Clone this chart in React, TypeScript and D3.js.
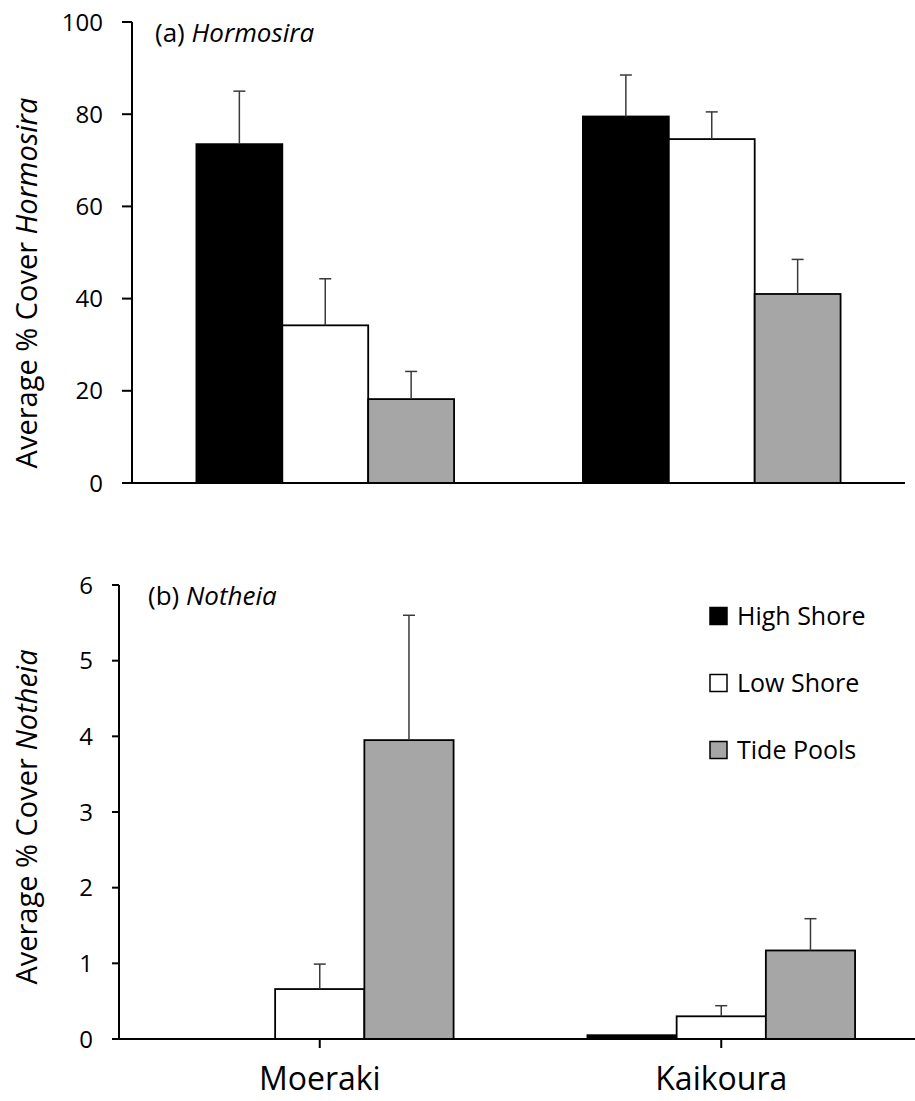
import React from 'react';
import * as d3 from 'd3';

const sites = ['Moeraki', 'Kaikoura'];
const zones = ['High Shore', 'Low Shore', 'Tide Pools'];
const zoneFill = ['#000000', '#ffffff', '#a6a6a6'];

// % cover Hormosira: mean per site (rows) and zone (cols), and mean + SE
const hormosiraMean = [[73.5, 34.2, 18.2], [79.5, 74.6, 41.0]];
const hormosiraTop = [[85.0, 44.3, 24.2], [88.5, 80.5, 48.5]];
const hormosiraTicks = [0, 20, 40, 60, 80, 100];

// % cover Notheia
const notheiaMean = [[0, 0.66, 3.95], [0.05, 0.3, 1.17]];
const notheiaTop = [[0, 0.99, 5.6], [0.05, 0.44, 1.59]];
const notheiaTicks = [0, 1, 2, 3, 4, 5, 6];

const FONT = '"Open Sans", "Liberation Sans", sans-serif';

type PanelProps = {
  left: number; right: number; top: number; bottom: number;
  max: number; ticks: number[]; mean: number[][]; upper: number[][];
  tag: string; genus: string; catTicks: boolean; tickLen: number;
  titleDx: number; labelY: number;
};

const Panel = (p: PanelProps) => {
  const x = d3.scaleBand().domain(sites).range([p.left, p.right]);
  const inner = d3.scaleBand().domain(zones).range([0, x.bandwidth()]).paddingOuter(0.75);
  const y = d3.scaleLinear().domain([0, p.max]).range([p.bottom, p.top]);
  const bw = inner.bandwidth();

  return (
    <g fontFamily={FONT}>
      {/* bars */}
      {sites.map((s, i) => zones.map((z, j) => {
        const x0 = (x(s) as number) + (inner(z) as number);
        const v = p.mean[i][j];
        if (v <= 0) return null;
        return (
          <rect key={s + z} x={x0} y={y(v)} width={bw} height={y(0) - y(v)}
            fill={zoneFill[j]} stroke="#000" strokeWidth={1.8} />
        );
      }))}
      {/* error bars */}
      {sites.map((s, i) => zones.map((z, j) => {
        const cx = (x(s) as number) + (inner(z) as number) + bw / 2;
        const v = p.mean[i][j];
        const t = p.upper[i][j];
        if (t - v < 0.02) return null;
        return (
          <g key={'e' + s + z} stroke="#3a3a3a" strokeWidth={1.5}>
            <line x1={cx} x2={cx} y1={y(v)} y2={y(t)} />
            <line x1={cx - 6} x2={cx + 6} y1={y(t)} y2={y(t)} />
          </g>
        );
      }))}
      {/* axes */}
      <line x1={p.left - p.tickLen} x2={p.right} y1={y(0)} y2={y(0)} stroke="#000" strokeWidth={2} />
      <line x1={p.left} x2={p.left} y1={y(p.max)} y2={y(0)} stroke="#000" strokeWidth={2} />
      {p.ticks.map(t => (
        <g key={t}>
          <line x1={p.left - p.tickLen} x2={p.left} y1={y(t)} y2={y(t)} stroke="#000" strokeWidth={2} />
          <text x={p.left - p.tickLen - 19} y={y(t)} dy="0.36em" textAnchor="end" fontSize={24}>{t}</text>
        </g>
      ))}
      {p.catTicks && sites.map(s => {
        const cx = (x(s) as number) + x.bandwidth() / 2;
        return (
          <g key={s}>
            <line x1={cx} x2={cx} y1={y(0)} y2={y(0) + 9} stroke="#000" strokeWidth={2} />
            <text x={cx} y={y(0) + 51} textAnchor="middle" fontSize={32}>{s}</text>
          </g>
        );
      })}
      <text x={p.left + p.titleDx} y={p.top + 20} fontSize={26}>
        {p.tag} <tspan fontStyle="italic">{p.genus}</tspan>
      </text>
      <text transform={`translate(37,${p.labelY}) rotate(-90)`} textAnchor="middle" fontSize={29}>
        Average % Cover <tspan fontStyle="italic">{p.genus}</tspan>
      </text>
    </g>
  );
};

const App = () => {
  const legendY = d3.scalePoint().domain(zones).range([616, 750]);
  return (
    <svg width={915} height={1101} style={{ position: 'absolute', left: 0, top: 0, background: '#fff' }}>
      <Panel left={132} right={905} top={22} bottom={483} max={100} ticks={hormosiraTicks}
        mean={hormosiraMean} upper={hormosiraTop} tag="(a)" genus="Hormosira" catTicks={false}
        tickLen={10} titleDx={23} labelY={283} />
      <Panel left={119} right={922} top={585} bottom={1039} max={6} ticks={notheiaTicks}
        mean={notheiaMean} upper={notheiaTop} tag="(b)" genus="Notheia" catTicks={true}
        tickLen={7} titleDx={29} labelY={817} />
      <g fontFamily={FONT}>
        {zones.map((z, j) => (
          <g key={z} transform={`translate(710,${legendY(z)})`}>
            <rect x={0} y={-8.5} width={17} height={17} fill={zoneFill[j]} stroke="#000" strokeWidth={1.5} />
            <text x={27} y={0} dy="0.36em" fontSize={25}>{z}</text>
          </g>
        ))}
      </g>
    </svg>
  );
};

export default App;
